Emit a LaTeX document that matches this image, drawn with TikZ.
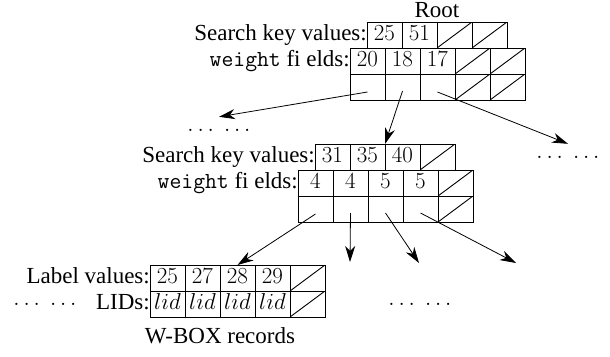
\documentclass[tikz,border=0pt]{standalone}
\usepackage{fix-cm}
\usepackage{fontspec}
\setmainfont{Liberation Serif}
\usetikzlibrary{arrows.meta}

\tikzset{
  cell/.style={draw, line width=0.9pt, anchor=north west, inner sep=0pt, outer sep=0pt,
    minimum width=35pt, minimum height=26pt, text height=17pt, text depth=7pt},
  nil/.style={cell, path picture={\draw[line width=0.9pt] (path picture bounding box.south west) -- (path picture bounding box.north east);}},
  lbl/.style={anchor=base east, inner sep=0pt},
  more/.style={anchor=base, inner sep=0pt, text height=14pt},
  ptr/.style={line width=0.8pt, -{Stealth[length=16pt,width=10pt,inset=5pt]}}
}

\begin{document}
\begin{tikzpicture}[x=1pt,y=-1pt,font=\fontsize{23}{27}\selectfont]
  \useasboundingbox (0,0) rectangle (610,356);

  % root node
  \node[anchor=base, inner sep=0pt] (root) at (437,17) {Root};
  \foreach \v [count=\i] in {25,51}
    \node[cell] (rk\i) at ({367+35*(\i-1)},22) {$\v$};
  \foreach \i in {3,4}
    \node[nil] (rk\i) at ({367+35*(\i-1)},22) {};
  \foreach \v [count=\i] in {20,18,17}
    \node[cell] (rw\i) at ({350+35*(\i-1)},48) {$\v$};
  \foreach \i in {1,2,3}
    \node[cell] (rp\i) at ({350+35*(\i-1)},74) {};
  \foreach \i in {4,5} {
    \node[nil] (rw\i) at ({350+35*(\i-1)},48) {};
    \node[nil] (rp\i) at ({350+35*(\i-1)},74) {};
  }
  \node[lbl] (rkl) at (rk1.base west) {Search key values:};
  \node[lbl] (rwl) at (rw1.base west) {\texttt{weight} fi elds:};

  % inner node
  \foreach \v [count=\i] in {31,35,40}
    \node[cell] (mk\i) at ({315+35*(\i-1)},144) {$\v$};
  \node[nil] (mk4) at (420,144) {};
  \foreach \v [count=\i] in {4,4,5,5} {
    \node[cell] (mw\i) at ({298+35*(\i-1)},170) {$\v$};
    \node[cell] (mp\i) at ({298+35*(\i-1)},196) {};
  }
  \node[nil] (mw5) at (438,170) {};
  \node[nil] (mp5) at (438,196) {};
  \node[lbl] (mkl) at (mk1.base west) {Search key values:};
  \node[lbl] (mwl) at (mw1.base west) {\texttt{weight} fi elds:};

  % leaf records
  \foreach \v [count=\i] in {25,27,28,29} {
    \node[cell] (rl\i) at ({150+35*(\i-1)},265) {$\v$};
    \node[cell] (ri\i) at ({150+35*(\i-1)},291) {$lid$};
  }
  \node[nil] (rl5) at (290,265) {};
  \node[nil] (ri5) at (290,291) {};
  \node[lbl] (rll) at (rl1.base west) {Label values:};
  \node[lbl] (ril) at (ri1.base west) {LIDs:};
  \node[anchor=base, inner sep=0pt] (wbox) at (220,343) {W-BOX records};

  % elided parts
  \node[more] (dl) at (219,131) {$\ldots\;\ldots$};
  \node[more] (dr) at (568,158) {$\ldots\;\ldots$};
  \node[more] (bl) at (45,305) {$\ldots\;\ldots$};
  \node[more] (br) at (420,305) {$\ldots\;\ldots$};
  \coordinate (e2) at (350,262);
  \coordinate (e3) at (419,263);
  \coordinate (e4) at (516,263);

  % pointers
  \draw[ptr] ([yshift=-5pt]rp1.center) -- (dl.north);
  \draw[ptr] ([yshift=-4pt]rp2.center) -- (mk3.north west);
  \draw[ptr] ([yshift=-5pt]rp3.center) -- (dr.north);
  \draw[ptr] ([yshift=-5pt]mp1.center) -- (rl3.north);
  \draw[ptr] ([yshift=-4pt]mp2.center) -- (e2);
  \draw[ptr] ([yshift=-4pt]mp3.center) -- (e3);
  \draw[ptr] ([yshift=-4pt]mp4.center) -- (e4);
\end{tikzpicture}
\end{document}
